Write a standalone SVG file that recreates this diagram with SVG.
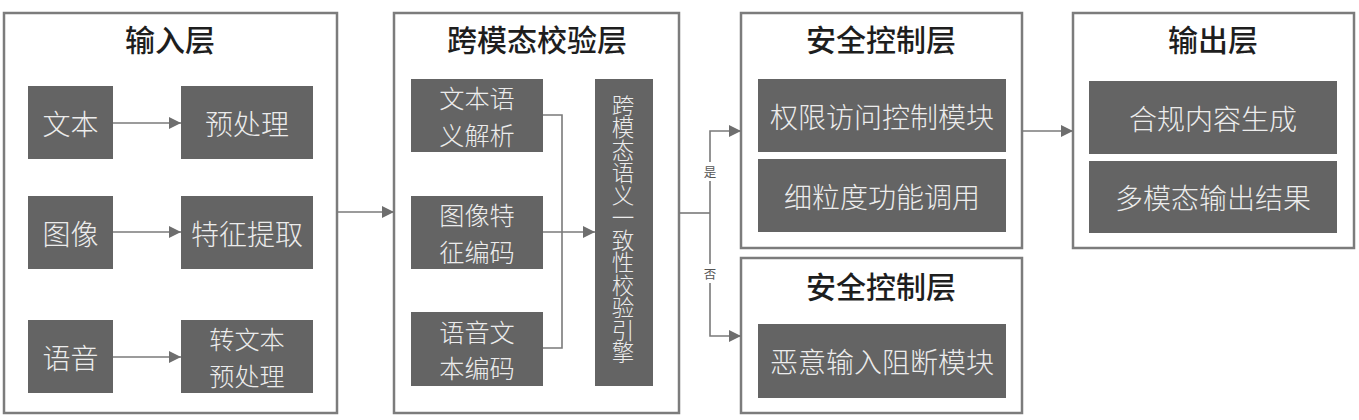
<svg xmlns="http://www.w3.org/2000/svg" width="1359" height="420" viewBox="0 0 1359 420">
<defs>
<style>
.layer{fill:#fff;stroke:#7c7c7c;stroke-width:2.5}
.box{fill:#646464;stroke:none}
.title{font-family:"Noto Sans CJK SC","Noto Sans",sans-serif;font-size:30px;fill:#1e1e1e;font-weight:500;text-anchor:middle;dominant-baseline:central}
.t{font-family:"Noto Sans CJK SC","Noto Sans",sans-serif;font-size:28px;fill:#ececec;font-weight:300;text-anchor:middle;dominant-baseline:central}
.t2{font-family:"Noto Sans CJK SC","Noto Sans",sans-serif;font-size:25.2px;fill:#ececec;font-weight:300;text-anchor:middle;dominant-baseline:central}
.v{font-family:"Noto Sans CJK SC","Noto Sans",sans-serif;font-size:22.5px;fill:#ececec;font-weight:300;writing-mode:vertical-rl;text-anchor:start}
.lbl{font-family:"Noto Sans CJK SC","Noto Sans",sans-serif;font-size:12.5px;fill:#555;text-anchor:middle;dominant-baseline:central}
.c{fill:none;stroke:#7a7a7a;stroke-width:1.6}
</style>
<marker id="ah" viewBox="0 0 10 10" refX="10" refY="5" markerWidth="15" markerHeight="12" markerUnits="userSpaceOnUse" orient="auto">
<path d="M0,0 L10,5 L0,10 z" fill="#6e6e6e"/>
</marker>
</defs>

<g id="input-layer">
<rect class="layer" x="4" y="13" width="333" height="400"/>
<text class="title" x="170" y="38">输入层</text>
</g>
<g id="n-text"><rect class="box" x="28" y="86" width="85" height="73"/><text class="t" x="70.5" y="122.5">文本</text></g>
<g id="n-pre"><rect class="box" x="181" y="86" width="132" height="73"/><text class="t" x="247" y="122.5">预处理</text></g>
<g id="n-img"><rect class="box" x="28" y="196" width="85" height="73"/><text class="t" x="70.5" y="232.5">图像</text></g>
<g id="n-feat"><rect class="box" x="181" y="196" width="132" height="73"/><text class="t" x="247" y="232.5">特征提取</text></g>
<g id="n-voice"><rect class="box" x="28" y="320" width="85" height="73"/><text class="t" x="70.5" y="356.5">语音</text></g>
<g id="n-stt"><rect class="box" x="181" y="320" width="132" height="73"/><text class="t2" x="247" y="338.2">转文本</text><text class="t2" x="247" y="374.8">预处理</text></g>

<g id="cross-layer">
<rect class="layer" x="394" y="13" width="285" height="400"/>
<text class="title" x="537" y="38">跨模态校验层</text>
</g>
<g id="n-sem"><rect class="box" x="411" y="79" width="132" height="73"/><text class="t2" x="477" y="97.2">文本语</text><text class="t2" x="477" y="133.8">义解析</text></g>
<g id="n-imgenc"><rect class="box" x="411" y="196" width="132" height="73"/><text class="t2" x="477" y="214.2">图像特</text><text class="t2" x="477" y="250.8">征编码</text></g>
<g id="n-voiceenc"><rect class="box" x="411" y="312" width="132" height="74"/><text class="t2" x="477" y="330.7">语音文</text><text class="t2" x="477" y="367.3">本编码</text></g>
<g id="n-engine"><rect class="box" x="595" y="79" width="58" height="307"/>
<text class="v" x="623" y="94">跨模态语义一致性校验引擎</text>
</g>

<g id="security-layer-1">
<rect class="layer" x="741" y="13" width="281" height="235"/>
<text class="title" x="881" y="38">安全控制层</text>
</g>
<g id="n-perm"><rect class="box" x="758" y="79" width="248" height="73"/><text class="t" x="882" y="115.5">权限访问控制模块</text></g>
<g id="n-fine"><rect class="box" x="758" y="159" width="248" height="73"/><text class="t" x="882" y="195.5">细粒度功能调用</text></g>

<g id="security-layer-2">
<rect class="layer" x="741" y="258" width="281" height="155"/>
<text class="title" x="881" y="285">安全控制层</text>
</g>
<g id="n-block"><rect class="box" x="758" y="324" width="248" height="74"/><text class="t" x="882" y="361">恶意输入阻断模块</text></g>

<g id="output-layer">
<rect class="layer" x="1073" y="13" width="281" height="235"/>
<text class="title" x="1213" y="38">输出层</text>
</g>
<g id="n-gen"><rect class="box" x="1089" y="81" width="248" height="73"/><text class="t" x="1213" y="117.5">合规内容生成</text></g>
<g id="n-out"><rect class="box" x="1089" y="161" width="248" height="72"/><text class="t" x="1213" y="197">多模态输出结果</text></g>

<g id="connectors">
<line class="c" x1="113" y1="123" x2="181" y2="123" marker-end="url(#ah)"/>
<line class="c" x1="113" y1="232" x2="181" y2="232" marker-end="url(#ah)"/>
<line class="c" x1="113" y1="357" x2="181" y2="357" marker-end="url(#ah)"/>
<line class="c" x1="337" y1="212" x2="394" y2="212" marker-end="url(#ah)"/>
<polyline class="c" points="543,115 562,115 562,348 543,348"/>
<line class="c" x1="543" y1="232" x2="595" y2="232" marker-end="url(#ah)"/>
<line class="c" x1="679" y1="213" x2="710" y2="213"/>
<polyline class="c" points="710,162 710,131 741,131" marker-end="url(#ah)"/>
<line class="c" x1="710" y1="181" x2="710" y2="264"/>
<polyline class="c" points="710,283 710,336 741,336" marker-end="url(#ah)"/>
<text class="lbl" x="710" y="171">是</text>
<text class="lbl" x="710" y="273">否</text>
<line class="c" x1="1022" y1="131" x2="1073" y2="131" marker-end="url(#ah)"/>
</g>
</svg>
